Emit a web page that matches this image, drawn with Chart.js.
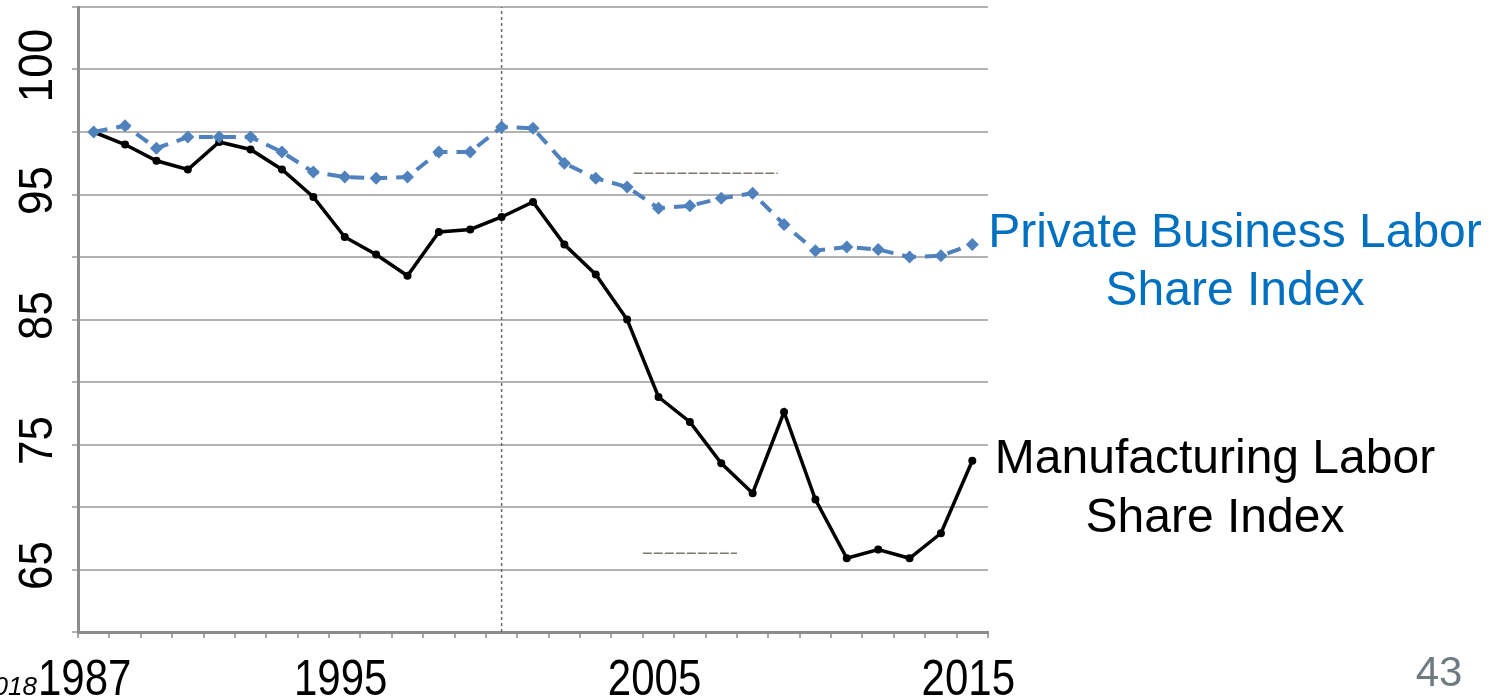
<!DOCTYPE html>
<html>
<head>
<meta charset="utf-8">
<script src="https://cdn.jsdelivr.net/npm/chart.js@4.4.1/dist/chart.umd.min.js"></script>
<style>
  html, body { margin: 0; padding: 0; background: #fff; overflow: hidden; }
  #wrap { width: 1499px; height: 700px; position: relative; }
</style>
</head>
<body>
<div id="wrap"><canvas id="laborChart"></canvas></div>
<script>
// --- data ---
const years = ['1987','1988','1989','1990','1991','1992','1993','1994','1995','1996',
               '1997','1998','1999','2000','2001','2002','2003','2004','2005','2006',
               '2007','2008','2009','2010','2011','2012','2013','2014','2015'];
const privateIdx = [100, 100.5, 98.7, 99.6, 99.6, 99.6, 98.4, 96.8, 96.4, 96.3,
                    96.4, 98.4, 98.4, 100.4, 100.3, 97.5, 96.3, 95.6, 93.9, 94.1,
                    94.7, 95.1, 92.6, 90.5, 90.8, 90.6, 90.0, 90.1, 91.0];
const manufIdx = [100, 99.0, 97.7, 97.0, 99.2, 98.6, 97.0, 94.8, 91.6, 90.2,
                  88.5, 92.0, 92.2, 93.2, 94.4, 91.0, 88.6, 85.0, 78.8, 76.8,
                  73.5, 71.1, 77.6, 70.6, 65.9, 66.6, 65.9, 67.9, 73.7];
const xLabels = ['1987', '1995', '2005', '2015'];
const yTickValues = [65, 75, 85, 95, 105];
const yTickLabels = ['65', '75', '85', '95', '100'];   // as printed on the slide
const markerYear = '2000';
// faint leftover dashes on the slide (index position, value)
const smudgeTop = [[17.2, 96.7], [21.8, 96.7]];
const smudgeLow = [[17.5, 66.3], [20.5, 66.3]];

const FONT = '"Liberation Sans", Arial, sans-serif';
const markerIdx = years.indexOf(markerYear);

// --- label sumbu (digambar sendiri karena teksnya agak tinggi), nama seri, nomor slide ---
const overlayText = {
    id: 'overlayText',
    afterDraw(chart) {
        const ctx = chart.ctx;
        const { x, y } = chart.scales;
        ctx.save();
        ctx.fillStyle = '#000';
        ctx.textAlign = 'center';
        ctx.textBaseline = 'alphabetic';

        // y labels, rotated
        ctx.font = '44px ' + FONT;
        yTickValues.forEach((v, i) => {
            ctx.save();
            ctx.translate(52, y.getPixelForValue(v) - 4);
            ctx.rotate(-Math.PI / 2);
            ctx.scale(1, 1.1);
            ctx.fillText(yTickLabels[i], 0, 0);
            ctx.restore();
        });

        // x labels
        ctx.font = '42px ' + FONT;
        xLabels.forEach((lab, i) => {
            ctx.save();
            ctx.translate(x.getPixelForValue(years.indexOf(lab)) - (i === 0 ? 9 : 4), 695);
            ctx.scale(1, 1.17);
            ctx.fillText(lab, 0, 0);
            ctx.restore();
        });

        ctx.font = '48px ' + FONT;
        ctx.fillStyle = '#0070C0';
        ctx.fillText('Private Business Labor', 1235, 247);
        ctx.fillText('Share Index', 1235, 305);
        ctx.fillStyle = '#000';
        ctx.fillText('Manufacturing Labor', 1215, 473);
        ctx.fillText('Share Index', 1215, 532);

        ctx.font = '42px ' + FONT;
        ctx.fillStyle = '#6f7b80';
        ctx.fillText('43', 1439, 686);

        ctx.font = 'italic 26px ' + FONT;
        ctx.fillStyle = '#000';
        ctx.textAlign = 'right';
        ctx.fillText('2018', 37, 695);
        ctx.restore();
    }
};

const ctx = document.getElementById('laborChart').getContext('2d');
new Chart(ctx, {
    type: 'line',
    data: {
        labels: years,
        datasets: [
            {
                label: 'Private Business Labor Share Index',
                data: privateIdx,
                borderColor: '#4F81BD',
                backgroundColor: '#4F81BD',
                borderWidth: 4,
                borderDash: [14, 9],
                pointStyle: 'rectRot',
                pointRadius: 6.5,
                pointBorderWidth: 0,
                tension: 0
            },
            {
                label: 'Manufacturing Labor Share Index',
                data: manufIdx,
                borderColor: '#000',
                backgroundColor: '#000',
                borderWidth: 3.5,
                pointStyle: 'circle',
                pointRadius: 4,
                pointBorderWidth: 0,
                tension: 0
            },
            {
                label: 'marker',
                xAxisID: 'x2',
                data: [{ x: markerIdx, y: 60 }, { x: markerIdx, y: 110 }],
                borderColor: '#6a6a6a',
                borderWidth: 1.5,
                borderDash: [3, 3],
                pointRadius: 0
            },
            {
                label: 'smudge1',
                xAxisID: 'x2',
                data: smudgeTop.map(p => ({ x: p[0], y: p[1] })),
                borderColor: '#7d776c',
                borderWidth: 1.5,
                borderDash: [9, 2],
                pointRadius: 0
            },
            {
                label: 'smudge2',
                xAxisID: 'x2',
                data: smudgeLow.map(p => ({ x: p[0], y: p[1] })),
                borderColor: '#7d776c',
                borderWidth: 1.5,
                borderDash: [9, 2],
                pointRadius: 0
            }
        ]
    },
    options: {
        responsive: true,
        maintainAspectRatio: false,
        animation: false,
        devicePixelRatio: 1,
        layout: { padding: { left: 72, right: 511, top: 7, bottom: 62 } },
        scales: {
            x: {
                type: 'category',
                offset: true,
                grid: { offset: true, drawOnChartArea: false, tickLength: 6, color: '#a6a6a6', lineWidth: 2 },
                border: { color: '#8c8c8c', width: 3 },
                ticks: { display: false, autoSkip: false }
            },
            x2: { type: 'linear', display: false, min: -0.5, max: years.length - 0.5 },
            y: {
                min: 60,
                max: 110,
                ticks: { stepSize: 5, display: false },
                grid: { color: '#b3b3b3', lineWidth: 2, tickLength: 6 },
                border: { color: '#8c8c8c', width: 3 }
            }
        },
        plugins: { legend: { display: false }, tooltip: { enabled: false } }
    },
    plugins: [overlayText]
});
</script>
</body>
</html>
